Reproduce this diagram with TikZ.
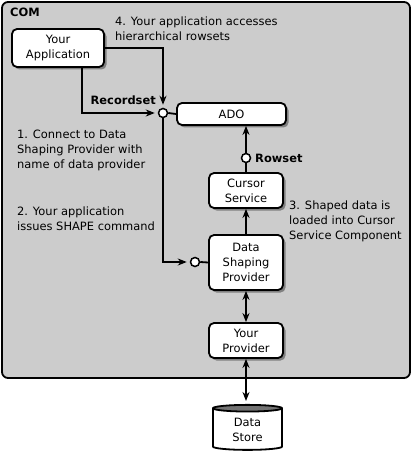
\documentclass[tikz,border=0pt]{standalone}
\usepackage{fontspec}
\setmainfont{DejaVu Sans}
\usetikzlibrary{arrows.meta, positioning, shapes.geometric, shadows}
\definecolor{comgray}{RGB}{204,204,204}

\begin{document}
\begin{tikzpicture}[x=1bp, y=-1bp,
  every node/.style={font=\fontsize{11.5}{15}\selectfont},
  >={Stealth[length=9bp, width=7bp]},
  box/.style={draw, fill=white, line width=1.8bp, rounded corners=5bp, align=center, inner sep=0pt,
    drop shadow={shadow xshift=2.5bp, shadow yshift=-2.5bp, fill=black!50, opacity=1}},
  port/.style={circle, draw, fill=white, line width=1.5bp, inner sep=0pt, minimum size=9bp},
  note/.style={anchor=north west, align=left, inner sep=0pt},
  lbl/.style={font=\fontsize{11.5}{15}\selectfont\bfseries, inner sep=0pt},
  wire/.style={line width=1.8bp}]
  \useasboundingbox (0,0) rectangle (412,454);

  % COM container
  \draw[fill=comgray, line width=1.8bp, rounded corners=6bp] (2,2) rectangle (410,378);
  \node[lbl, anchor=west] (com) at (10,12) {COM};

  % Components
  \node[box, minimum width=92bp, minimum height=38bp] (app) at (58,48) {Your\\Application};
  \node[box, minimum width=109bp, minimum height=22bp] (ado) at (231.5,114) {ADO};
  \node[box, minimum width=74bp, minimum height=35bp] (cursor) at (246,190.5) {Cursor\\Service};
  \node[box, minimum width=74bp, minimum height=55bp] (dsp) at (246,262.5) {Data\\Shaping\\Provider};
  \node[box, minimum width=74bp, minimum height=35bp] (prov) at (246,340.5) {Your\\Provider};
  \node[cylinder, shape border rotate=90, aspect=0.22, draw, line width=1.8bp,
    cylinder uses custom fill, cylinder body fill=white, cylinder end fill=black!55,
    minimum width=69bp, minimum height=45bp, align=center, inner sep=0pt] (store) at (247.5,429.5) {Data\\Store};

  % Interfaces
  \node[port] (recport) at (163,113) {};
  \node[port] (cmdport) at (195,262) {};
  \node[port] (rowport) at (246,158) {};
  \node[lbl, anchor=east] (reclbl) at (156,100) {Recordset};
  \node[lbl, anchor=west] (rowlbl) at (255,158) {Rowset};

  % Steps
  \node[note] (step4) at (115,17) {4. Your application accesses\\hierarchical rowsets};
  \node[note] (step1) at (17,130) {1. Connect to Data\\Shaping Provider with\\name of data provider};
  \node[note] (step2) at (17,207) {2. Your application\\issues SHAPE command};
  \node[note] (step3) at (289,201) {3. Shaped data is\\loaded into Cursor\\Service Component};

  % Connections
  \coordinate (appout) at ([xshift=24bp]app.south);
  \draw[wire, ->, shorten >=3bp] (app.east) -| (recport.north);
  \draw[wire, ->, shorten >=3bp] (appout) |- (recport.west);
  \draw[wire] (recport.east) -- (ado.west);
  \draw[wire, ->, shorten >=3bp] (recport.south) |- (cmdport.west);
  \draw[wire] (cmdport.east) -- (dsp.west);
  \draw[wire, ->] (dsp.north) -- (cursor.south);
  \draw[wire] (cursor.north) -- (rowport.south);
  \draw[wire, ->] (rowport.north) -- (rowport.north |- ado.south);
  \draw[wire, <->] (dsp.south) -- (prov.north);
  \draw[wire, <->, shorten >=3bp] (prov.south) -- (prov.south |- store.north);
\end{tikzpicture}
\end{document}
